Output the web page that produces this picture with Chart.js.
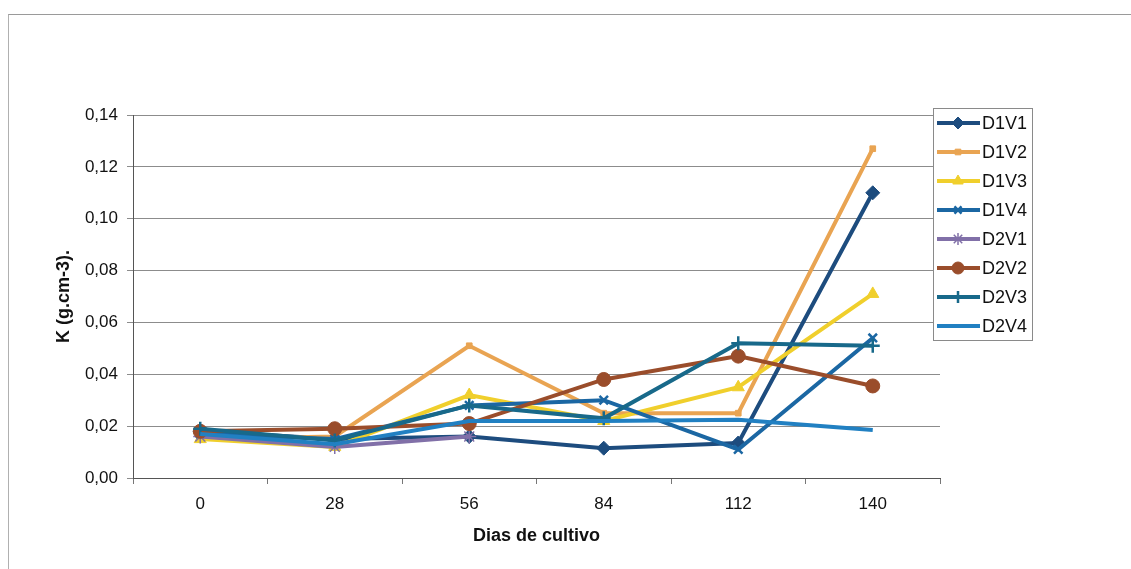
<!DOCTYPE html>
<html>
<head>
<meta charset="utf-8">
<script src="https://cdn.jsdelivr.net/npm/chart.js@4/dist/chart.umd.min.js"></script>
<style>
    html, body { margin: 0; padding: 0; background: #fff; }
    #wrap { position: relative; width: 1131px; height: 569px; }
    #frame { position: absolute; left: 8px; top: 14px; right: -2px; bottom: -2px; border-top: 1px solid #9a9a9a; border-left: 1px solid #b0b0b0; }
    canvas { position: absolute; left: 0; top: 0; }
</style>
</head>
<body>
<div id="wrap">
    <div id="frame"></div>
    <canvas id="chart" width="1131" height="569"></canvas>
</div>
<script>
// --- DATA ---
const days = ['0', '28', '56', '84', '112', '140'];
const seriesNames = ['D1V1', 'D1V2', 'D1V3', 'D1V4', 'D2V1', 'D2V2', 'D2V3', 'D2V4'];

const d1v1 = [0.018, 0.015, 0.016, 0.0115, 0.0135, 0.110];
const d1v2 = [0.015, 0.016, 0.051, 0.025, 0.025, 0.127];
const d1v3 = [0.015, 0.012, 0.032, 0.022, 0.035, 0.071];
const d1v4 = [0.017, 0.015, 0.028, 0.030, 0.011, 0.054];
const d2v1 = [0.016, 0.012, 0.016, null, null, null];
const d2v2 = [0.018, 0.019, 0.021, 0.038, 0.047, 0.0355];
const d2v3 = [0.019, 0.0145, 0.028, 0.023, 0.052, 0.051];
const d2v4 = [0.017, 0.013, 0.022, 0.022, 0.0225, 0.0185];

const yTicks = [0, 0.02, 0.04, 0.06, 0.08, 0.10, 0.12, 0.14];

// --- STYLES ---
const seriesValues = [d1v1, d1v2, d1v3, d1v4, d2v1, d2v2, d2v3, d2v4];
const colors = ['#1d4c7e', '#e9a452', '#f0cf2c', '#1b67a3', '#8170a8', '#9a4d2b', '#18698a', '#2180c2'];
const markers = ['rectRot', 'rect', 'triangle', 'crossRot', 'star', 'circle', 'cross', false];
const radii = [7, 4, 7, 6, 7, 7, 7, 0];
const FONT = '"Liberation Sans", Arial, sans-serif';

const lineMarker = s => s === 'crossRot' || s === 'star' || s === 'cross';

const datasets = seriesNames.map((name, i) => ({
    label: name,
    data: seriesValues[i],
    borderColor: colors[i],
    backgroundColor: colors[i],
    borderWidth: 4,
    pointStyle: markers[i],
    pointRadius: radii[i],
    pointBorderWidth: markers[i] === 'star' ? 1.5 : (lineMarker(markers[i]) ? 2.5 : 1),
    pointBackgroundColor: colors[i],
    pointBorderColor: colors[i],
    tension: 0,
    order: seriesNames.length - i
}));

// legend drawn on the canvas, box overlapping the plot's right edge like the original
const boxLegend = {
    id: 'boxLegend',
    afterDraw(chart) {
        const ctx = chart.ctx;
        const x0 = 933, y0 = 108, w = 99, h = 232, step = 29;
        ctx.save();
        ctx.fillStyle = '#fff';
        ctx.fillRect(x0, y0, w, h);
        ctx.strokeStyle = '#8a8a8a';
        ctx.lineWidth = 1;
        ctx.strokeRect(x0 + 0.5, y0 + 0.5, w, h);
        chart.data.datasets.forEach((ds, i) => {
            const y = y0 + 15 + i * step;
            ctx.strokeStyle = ds.borderColor;
            ctx.lineWidth = 4;
            ctx.beginPath();
            ctx.moveTo(937, y);
            ctx.lineTo(980, y);
            ctx.stroke();
            if (ds.pointStyle) {
                ctx.fillStyle = ds.backgroundColor;
                ctx.strokeStyle = ds.borderColor;
                ctx.lineWidth = ds.pointBorderWidth;
                Chart.helpers.drawPoint(ctx, {
                    pointStyle: ds.pointStyle,
                    radius: Math.max(ds.pointRadius - 1, 4),
                    borderWidth: ds.pointBorderWidth,
                    rotation: 0
                }, 958, y);
            }
            ctx.fillStyle = '#111';
            ctx.font = '18px ' + FONT;
            ctx.textBaseline = 'middle';
            ctx.textAlign = 'left';
            ctx.fillText(ds.label, 982, y + 1);
        });
        ctx.restore();
    }
};

Chart.defaults.font.family = FONT;
Chart.defaults.color = '#111';

new Chart(document.getElementById('chart'), {
    type: 'line',
    data: { labels: days, datasets: datasets },
    options: {
        responsive: false,
        animation: false,
        spanGaps: false,
        layout: { padding: { top: 115, right: 191, bottom: 0, left: 0 } },
        plugins: {
            legend: { display: false },
            tooltip: { enabled: false }
        },
        scales: {
            x: {
                offset: true,
                afterFit: scale => { scale.height = 91; },
                grid: { offset: true, drawOnChartArea: false, color: '#777', tickLength: 6 },
                border: { color: '#555', width: 1 },
                ticks: { font: { size: 17 }, padding: 10, color: '#111' },
                title: { display: true, text: 'Dias de cultivo', font: { size: 18, weight: 'bold' }, color: '#111', padding: { top: 4, bottom: 22 } }
            },
            y: {
                min: 0,
                max: 0.14,
                afterFit: scale => { scale.width = 133; },
                afterBuildTicks: scale => { scale.ticks = yTicks.map(v => ({ value: v })); },
                grid: { color: '#8c8c8c', lineWidth: 1, tickLength: 6 },
                border: { color: '#555', width: 1 },
                ticks: {
                    font: { size: 17 },
                    padding: 9,
                    color: '#111',
                    callback: value => value.toFixed(2).replace('.', ',')
                },
                title: { display: true, text: 'K (g.cm-3).', font: { size: 18, weight: 'bold' }, color: '#111', padding: { top: 53, bottom: 0 } }
            }
        }
    },
    plugins: [boxLegend]
});
</script>
</body>
</html>
